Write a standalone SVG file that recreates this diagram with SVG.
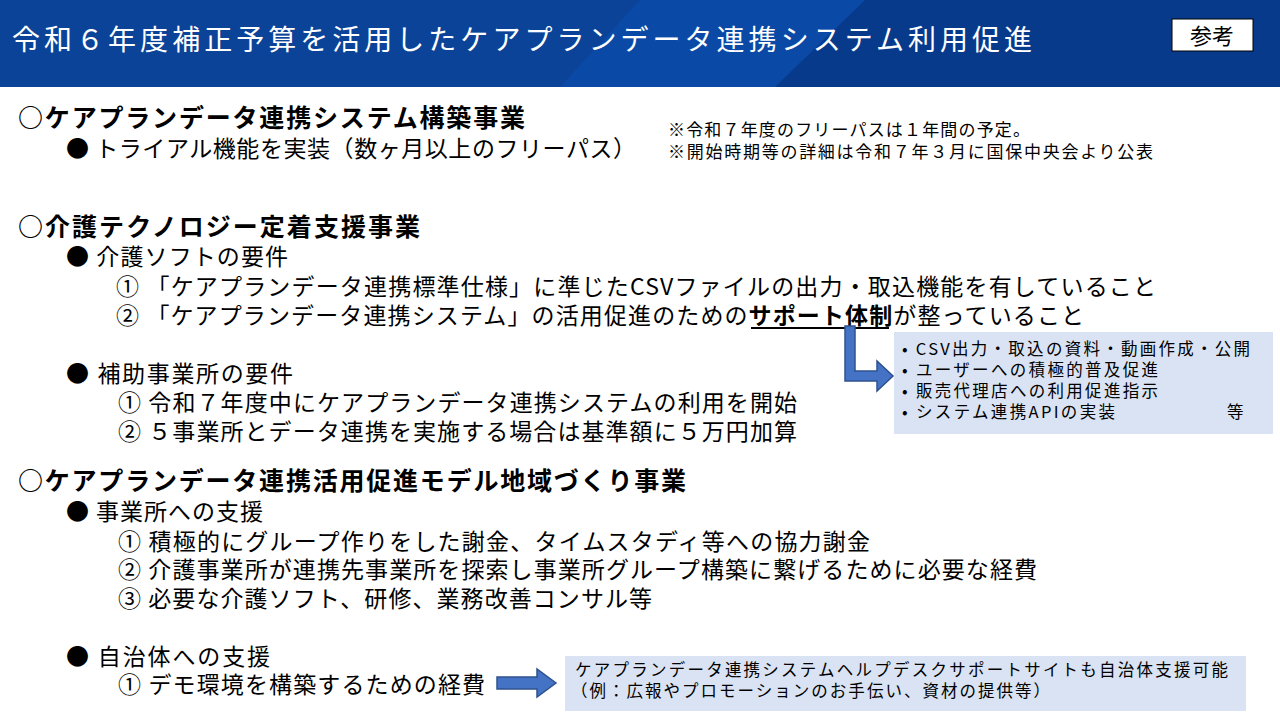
<svg xmlns="http://www.w3.org/2000/svg" width="1280" height="720" viewBox="0 0 1280 720">
<style>
text{font-family:"Noto Sans CJK JP","Noto Sans",sans-serif;fill:#000}
.h{font-size:25px;font-weight:bold}
.b{font-size:23px}
.n{font-size:17px}
.s{font-size:16.5px}
</style>
<rect width="1280" height="720" fill="#fff"/>
<g id="header">
<rect x="0" y="0" width="1280" height="87" fill="#083a8c"/>
<polygon points="0,0 865,0 775,87 0,87" fill="#0a4aa6"/>
<polygon points="0,0 640,0 560,87 0,87" fill="#0b3f90" opacity="0.6"/>
<text x="12" y="50" textLength="1020" style="font-size:28px;fill:#fff">令和６年度補正予算を活用したケアプランデータ連携システム利用促進</text>
<rect x="1172" y="19" width="81" height="32" fill="#fff" stroke="#000" stroke-width="1"/>
<text x="1212" y="44" text-anchor="middle" style="font-size:22px">参考</text>
</g>
<g id="section1">
<text class="h" x="18" y="127" textLength="507">○ケアプランデータ連携システム構築事業</text>
<text class="b" x="66" y="157" textLength="570">●  トライアル機能を実装（数ヶ月以上のフリーパス）</text>
<text class="n" x="668" y="136" textLength="362">※令和７年度のフリーパスは１年間の予定。</text>
<text class="n" x="668" y="158" textLength="485">※開始時期等の詳細は令和７年３月に国保中央会より公表</text>
</g>
<g id="section2">
<text class="h" x="18" y="236" textLength="402">○介護テクノロジー定着支援事業</text>
<text class="b" x="66" y="265" textLength="222">●  介護ソフトの要件</text>
<text class="b" x="116" y="295" textLength="1040">①  「ケアプランデータ連携標準仕様」に準じたCSVファイルの出力・取込機能を有していること</text>
<text class="b" x="116" y="324" textLength="968">②  「ケアプランデータ連携システム」の活用促進のための<tspan font-weight="bold">サポート体制</tspan>が整っていること</text>
<line x1="751" y1="328" x2="889" y2="328" stroke="#000" stroke-width="2"/>
<text class="b" x="66" y="382" textLength="227">●   補助事業所の要件</text>
<text class="b" x="118" y="411" textLength="679">①  令和７年度中にケアプランデータ連携システムの利用を開始</text>
<text class="b" x="118" y="440" textLength="679">②   ５事業所とデータ連携を実施する場合は基準額に５万円加算</text>
</g>
<g id="box1">
<rect x="894" y="332" width="379" height="102" fill="#dae3f3"/>
<text class="s" x="902" y="355" textLength="348">• CSV出力・取込の資料・動画作成・公開</text>
<text class="s" x="902" y="376" textLength="256">• ユーザーへの積極的普及促進</text>
<text class="s" x="902" y="397" textLength="256">• 販売代理店への利用促進指示</text>
<text class="s" x="902" y="418" textLength="213">• システム連携APIの実装</text>
<text class="s" x="1227" y="418">等</text>
</g>
<g id="section3">
<text class="h" x="18" y="490" textLength="668">○ケアプランデータ連携活用促進モデル地域づくり事業</text>
<text class="b" x="66" y="520" textLength="197">●  事業所への支援</text>
<text class="b" x="118" y="550" textLength="752">①  積極的にグループ作りをした謝金、タイムスタディ等への協力謝金</text>
<text class="b" x="118" y="578" textLength="919">②  介護事業所が連携先事業所を探索し事業所グループ構築に繋げるために必要な経費</text>
<text class="b" x="118" y="607" textLength="534">③  必要な介護ソフト、研修、業務改善コンサル等</text>
<text class="b" x="66" y="665" textLength="204">●   自治体への支援</text>
<text class="b" x="118" y="693" textLength="367">①  デモ環境を構築するための経費</text>
</g>
<g id="box2">
<rect x="565" y="656" width="681" height="55" fill="#dae3f3"/>
<text class="s" x="575" y="676" textLength="653">ケアプランデータ連携システムヘルプデスクサポートサイトも自治体支援可能</text>
<text class="s" x="571" y="697" textLength="479">（例：広報やプロモーションのお手伝い、資材の提供等）</text>
</g>
<g id="connectors" fill="#4472c4" stroke="#2f528f" stroke-width="1.5">
<path d="M845,326 H855 V371 H877 V361 L893,376 L877,391 V381 H845 Z"/>
<path d="M497,677 H537 V669 L556,683 L537,697 V689 H497 Z"/>
</g>
</svg>
